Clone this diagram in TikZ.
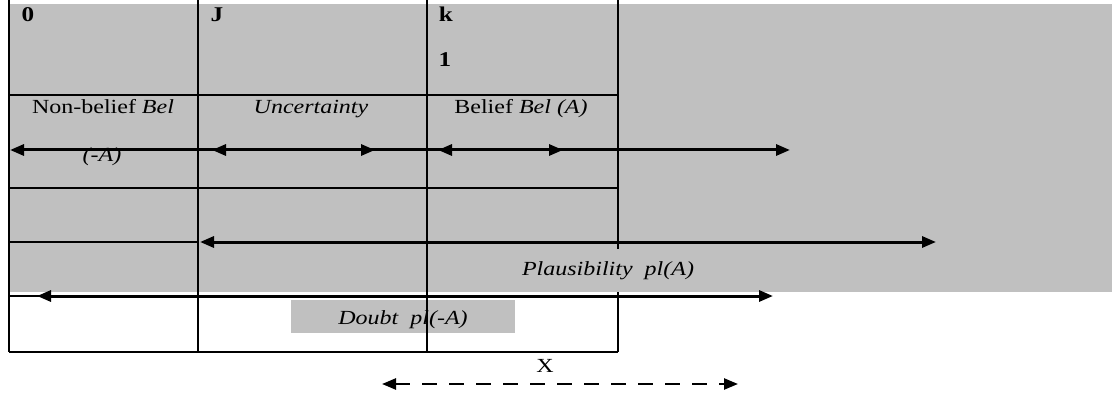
\documentclass[tikz,border=0pt]{standalone}
\usepackage{fontspec}
\setmainfont{Liberation Serif}[FakeStretch=1.2]
\usetikzlibrary{arrows.meta}
\definecolor{boxgray}{RGB}{192,192,192}

\begin{document}
\begin{tikzpicture}[x=1pt,y=-1pt,
        >={Triangle[length=14pt,width=11pt]},
        grid/.style={line width=2pt},
        arr/.style={line width=3pt},
        txt/.style={anchor=base,inner sep=0pt,font=\fontsize{20}{24}\selectfont},
        num/.style={anchor=base,inner sep=0pt,font=\fontsize{21}{24}\selectfont\bfseries}]
        \useasboundingbox (0,0) rectangle (1112,393);
        %% background
        \fill[boxgray] (10,4) rectangle (1112,292);
        \fill[boxgray] (291,300) rectangle (515,333);
        %% lines
        \foreach \x in {9,198,427,618}
            \draw[grid] (\x,0) -- (\x,352);
        \foreach \y in {95,188,296,352}
            \draw[grid] (9,\y) -- (618,\y);
        \draw[grid] (9,242) -- (198,242);
        \fill[boxgray] (515,249) rectangle (700,292);
        %% Points
        \coordinate (nbL) at (10,150);
        \coordinate (jM) at (198,150);
        \coordinate (uL) at (212,150);
        \coordinate (uR) at (375,150);
        \coordinate (kM) at (427,150);
        \coordinate (bL) at (438,150);
        \coordinate (bR) at (563,150);
        \coordinate (bE) at (790,150);
        \coordinate (plL) at (200,242);
        \coordinate (plR) at (936,242);
        \coordinate (dL) at (37,296);
        \coordinate (dR) at (773,296);
        \coordinate (xL) at (382,384);
        \coordinate (xR) at (738,384);
        %% Vectors
        \draw[arr,<-] (nbL) -- (jM);
        \draw[arr] (jM) -- (kM);
        \draw[arr,<->] (uL) -- (uR);
        \draw[arr,->] (kM) -- (bE);
        \draw[arr,<->] (bL) -- (bR);
        \draw[arr,<->] (plL) -- (plR);
        \draw[arr,<->] (dL) -- (dR);
        \draw[line width=2.5pt,<->,dash pattern=on 15pt off 12pt] (xL) -- (xR);
        %% Labels
        \node[num] (zero) at (28,22) {0};
        \node[num] (J) at (217,22) {J};
        \node[num] (k) at (446,22) {k};
        \node[num] (one) at (445,67) {1};
        \node[txt] (nonbel) at (103,114) {Non-belief \textit{Bel}};
        \node[txt] (negA) at (102,162) {\textit{(-A)}};
        \node[txt] (unc) at (311,114) {\textit{Uncertainty}};
        \node[txt] (bel) at (521,114) {Belief \textit{Bel (A)}};
        \node[txt] (plaus) at (608,275) {\textit{Plausibility\ \ pl(A)}};
        \node[txt] (doubt) at (403,324) {\textit{Doubt\ \ pl(-A)}};
        \node[txt] (X) at (545,372) {X};
    \end{tikzpicture}
\end{document}
